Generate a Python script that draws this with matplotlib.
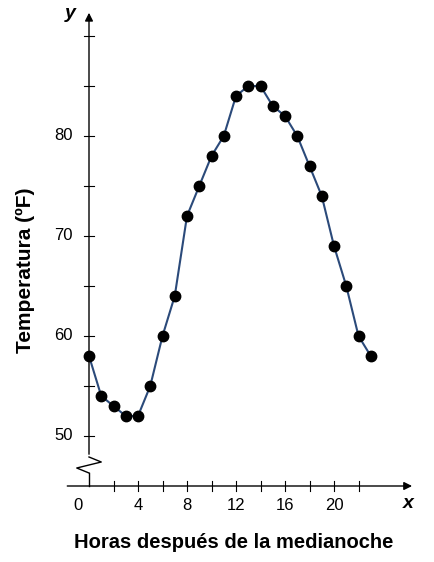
import matplotlib
matplotlib.use("Agg")
import matplotlib.pyplot as plt

hours = list(range(24))
temps = [58, 54, 53, 52, 52, 55, 60, 64, 72, 75, 78, 80, 84, 85, 85, 83, 82, 80, 77, 74, 69, 65, 60, 58]
xtick_vals = [4, 8, 12, 16, 20]
ytick_vals = [50, 60, 70, 80]

fig = plt.figure(figsize=(4.34, 5.62), dpi=100)
ax = fig.add_axes([0, 0, 1, 1])
ax.set_xlim(-89/12.25, (434-89)/12.25)
ax.set_ylim(50 + (436-562)/10, 50 + 436/10)
ax.axis('off')
plt.rcParams['font.family'] = ['Liberation Sans', 'DejaVu Sans']

k = 'black'
# x axis
ax.annotate('', xy=(26.6, 45), xytext=(-2.0, 45),
            arrowprops=dict(arrowstyle='-|>', color=k, lw=1, mutation_scale=12))
# y axis with break
ax.plot([0, 0], [45, 46.3], color=k, lw=1)
ax.plot([0, -1.0, 1.0, 0], [46.3, 46.8, 47.4, 47.9], color=k, lw=1)
ax.annotate('', xy=(0, 92.6), xytext=(0, 47.9),
            arrowprops=dict(arrowstyle='-|>', color=k, lw=1, mutation_scale=12))
for xv in range(2, 24, 2):
    ax.plot([xv, xv], [44.5, 45.5], color=k, lw=0.8)
for yv in range(50, 95, 5):
    ax.plot([-0.4, 0.4], [yv, yv], color=k, lw=0.8)
for xv in xtick_vals:
    ax.text(xv, 43.8, str(xv), ha='center', va='top', fontsize=12)
ax.text(-0.9, 43.8, '0', ha='center', va='top', fontsize=12)
for yv in ytick_vals:
    ax.text(-1.3, yv, str(yv), ha='right', va='center', fontsize=12)
ax.text(-1.5, 92.3, 'y', ha='center', va='center', fontsize=14, style='italic', weight='bold')
ax.text(26.1, 43.3, 'x', ha='center', va='center', fontsize=14, style='italic', weight='bold')
ax.text(-5.2, 66.6, 'Temperatura (ºF)', rotation=90, ha='center', va='center', fontsize=15, weight='bold')
ax.text(11.8, 39.3, 'Horas después de la medianoche', ha='center', va='center', fontsize=14.5, weight='bold')

ax.plot(hours, temps, color='#2b4a7a', lw=1.5, marker='o', ms=7.5, mfc='black', mec='black', zorder=3)
fig.savefig('out.png', dpi=100)
